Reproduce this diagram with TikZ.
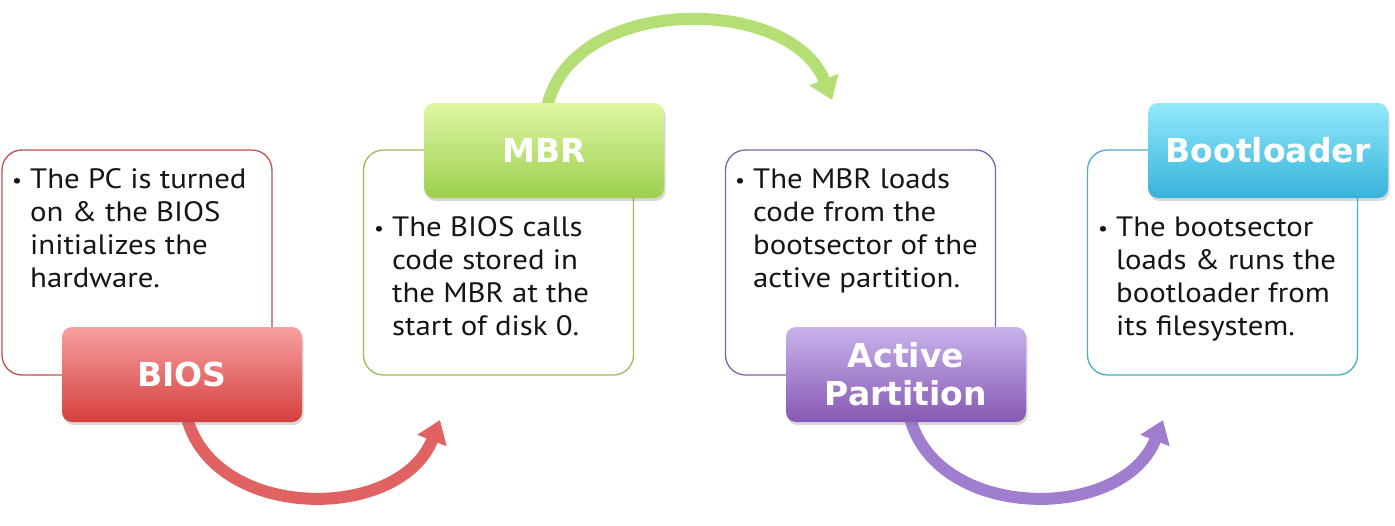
\documentclass[tikz,border=0pt]{standalone}
\usepackage{fontspec}
\setmainfont{PT Sans}[FakeStretch=1.1]
\newfontfamily\labelfont{DejaVu Sans}
\usetikzlibrary{arrows.meta,shadows}
\definecolor{redline}{HTML}{C0504D}
\definecolor{greenline}{HTML}{9BBB59}
\definecolor{purpleline}{HTML}{8064A2}
\definecolor{cyanline}{HTML}{4BACC6}
\definecolor{redtop}{HTML}{F7A1A0}
\definecolor{redbot}{HTML}{D43F3E}
\definecolor{greentop}{HTML}{DFF7A3}
\definecolor{greenbot}{HTML}{9CCF4E}
\definecolor{purpletop}{HTML}{C8B3EC}
\definecolor{purplebot}{HTML}{8659B4}
\definecolor{cyantop}{HTML}{93E9FB}
\definecolor{cyanbot}{HTML}{36B3DA}
\definecolor{redarrow}{HTML}{E06262}
\definecolor{greenarrow}{HTML}{B5DE74}
\definecolor{purplearrow}{HTML}{A07DCF}
\definecolor{bodyink}{HTML}{151515}
\newcommand{\bul}{\makebox[18pt][l]{\raisebox{1pt}{\fontsize{20}{20}\selectfont\textbullet}}}
\begin{document}
\begin{tikzpicture}[x=1pt,y=-1pt,
  txtbox/.style={draw=#1, line width=1.3pt, rounded corners=20pt, fill=white,
    minimum width=270pt, minimum height=225pt, inner sep=0pt},
  bodytext/.style={anchor=base west, inner sep=0pt, text=bodyink,
    font=\fontsize{28}{33}\selectfont},
  lbl/.style 2 args={rounded corners=10pt, top color=#1, bottom color=#2, draw=none,
    minimum width=240pt, minimum height=95pt, inner sep=0pt, text=white, align=center,
    font=\labelfont\bfseries\fontsize{33}{38}\selectfont,
    drop shadow={opacity=0.3, shadow xshift=1.5pt, shadow yshift=-3pt}},
  arr/.style={draw=#1, line width=12pt, -{Triangle[width=30pt,length=22pt]}}
]
\useasboundingbox (0,0) rectangle (1395,525);

% text boxes
\node[txtbox=redline] (b1) at (137,262.5) {};
\node[txtbox=greenline] (b2) at (498.5,262.5) {};
\node[txtbox=purpleline] (b3) at (860.5,262.5) {};
\node[txtbox=cyanline] (b4) at (1222.5,262.5) {};

\node[bodytext] (t1) at (12,188) {\begin{tabular}[t]{@{}l@{}l@{}}\bul & The PC is turned\\ & on \& the BIOS\\ & initializes the\\ & hardware.\end{tabular}};
\node[bodytext] (t2) at (374,236) {\begin{tabular}[t]{@{}l@{}l@{}}\bul & The BIOS calls\\ & code stored in\\ & the MBR at the\\ & start of disk 0.\end{tabular}};
\node[bodytext] (t3) at (735,188) {\begin{tabular}[t]{@{}l@{}l@{}}\bul & The MBR loads\\ & code from the\\ & bootsector of the\\ & active partition.\end{tabular}};
\node[bodytext] (t4) at (1098,236) {\begin{tabular}[t]{@{}l@{}l@{}}\bul & The bootsector\\ & loads \& runs the\\ & bootloader from\\ & its filesystem.\end{tabular}};

% arrow end points
\coordinate (e1) at (440,420);
\coordinate (e2) at (832,100);
\coordinate (e3) at (1163,420);
\coordinate (s1) at (187,418);
\coordinate (s2) at (547,108);
\coordinate (s3) at (910,418);

% arrows
\draw[arr=redarrow] (s1) .. controls (215,522) and (400,522) .. (e1);
\draw[arr=greenarrow] (s2) .. controls (570,-6) and (790,-6) .. (e2);
\draw[arr=purplearrow] (s3) .. controls (938,522) and (1123,522) .. (e3);

% labels
\node[lbl={redtop}{redbot}] (l1) at (182,374.5) {BIOS};
\node[lbl={greentop}{greenbot}] (l2) at (544,150.5) {MBR};
\node[lbl={purpletop}{purplebot}] (l3) at (906,374.5) {Active\\Partition};
\node[lbl={cyantop}{cyanbot}] (l4) at (1268,150.5) {Bootloader};
\end{tikzpicture}
\end{document}
